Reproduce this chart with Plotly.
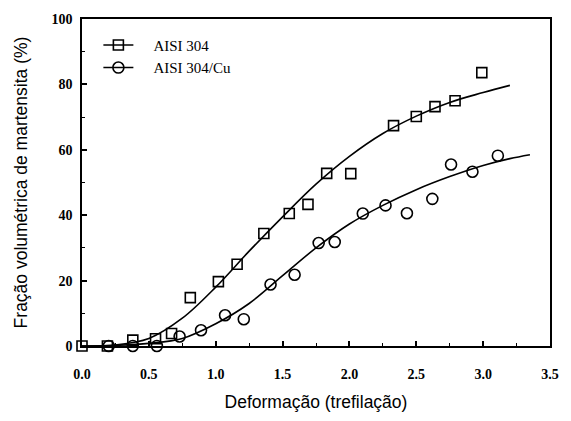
import plotly.graph_objects as go

# Measured points
x_304 = [0.0, 0.19, 0.38, 0.55, 0.67, 0.81, 1.02, 1.16, 1.36, 1.55, 1.69, 1.83, 2.01, 2.33, 2.50, 2.64, 2.79, 2.99]
y_304 = [0.0, 0.0, 1.8, 2.2, 3.8, 14.8, 19.7, 25.0, 34.4, 40.5, 43.3, 52.8, 52.7, 67.4, 70.2, 73.2, 75.0, 83.6]

x_cu = [0.20, 0.38, 0.56, 0.73, 0.89, 1.07, 1.21, 1.41, 1.59, 1.77, 1.89, 2.10, 2.27, 2.43, 2.62, 2.76, 2.92, 3.11]
y_cu = [0.0, 0.0, 0.0, 2.9, 4.8, 9.4, 8.2, 18.8, 21.8, 31.5, 31.8, 40.5, 43.0, 40.6, 45.0, 55.5, 53.3, 58.2]

# Fitted transformation curves
fit_x_304 = [0.0, 0.25, 0.5, 0.75, 1.0, 1.25, 1.5, 1.75, 2.0, 2.25, 2.5, 2.75, 3.0, 3.2]
fit_y_304 = [0.0, 0.3, 2.3, 8.5, 18.0, 29.0, 39.5, 49.5, 58.0, 65.0, 70.3, 74.5, 77.5, 79.7]

fit_x_cu = [0.0, 0.25, 0.5, 0.75, 1.0, 1.25, 1.5, 1.75, 2.0, 2.25, 2.5, 2.75, 3.0, 3.2, 3.35]
fit_y_cu = [0.0, 0.2, 0.8, 2.3, 6.8, 13.0, 21.5, 30.0, 37.3, 43.0, 47.8, 51.8, 55.2, 57.3, 58.5]

x_ticks = [0.0, 0.5, 1.0, 1.5, 2.0, 2.5, 3.0, 3.5]
y_ticks = [0, 20, 40, 60, 80, 100]

series_names = ["AISI 304", "AISI 304/Cu"]

tick_font = dict(family="Liberation Serif", size=14, color="black", weight="bold")
title_font = dict(family="Liberation Sans", size=17.5, color="black")
legend_pad = "\u00a0" * 4

fig = go.Figure()

# Fit curves
for fx, fy in [(fit_x_304, fit_y_304), (fit_x_cu, fit_y_cu)]:
    fig.add_trace(go.Scatter(x=fx, y=fy, mode="lines",
                             line=dict(color="black", width=1.6, shape="spline"),
                             showlegend=False, hoverinfo="skip", cliponaxis=False))

square_marker = dict(symbol="square-open", size=10, color="black", line=dict(width=1.6))
circle_marker = dict(symbol="circle-open", size=11, color="black", line=dict(width=1.6))

# Measured data
fig.add_trace(go.Scatter(x=x_304, y=y_304, mode="markers", name=series_names[0],
                         marker=square_marker, showlegend=False, cliponaxis=False))
fig.add_trace(go.Scatter(x=x_cu, y=y_cu, mode="markers", name=series_names[1],
                         marker=circle_marker, showlegend=False, cliponaxis=False))

# Legend entries: marker with a line through it
fig.add_trace(go.Scatter(x=[None], y=[None], mode="markers+lines", name=legend_pad + series_names[0],
                         line=dict(color="black", width=1.6), marker=square_marker))
fig.add_trace(go.Scatter(x=[None], y=[None], mode="markers+lines", name=legend_pad + series_names[1],
                         line=dict(color="black", width=1.6), marker=circle_marker))

axis_common = dict(
    showgrid=False, zeroline=False, showline=True, linecolor="black", linewidth=1.6,
    mirror=True, ticks="inside", ticklen=5, tickwidth=1.6, tickcolor="black",
    tickfont=tick_font,
)

fig.update_xaxes(range=[0, 3.5], tickvals=x_ticks, ticktext=[f"{v:.1f}" for v in x_ticks],
                 ticklabelstandoff=14,
                 title=dict(text="Deformação (trefilação)", font=title_font, standoff=15),
                 minor=dict(ticks="inside", ticklen=3, tickwidth=1.2, dtick=0.25, tickcolor="black"),
                 **axis_common)
fig.update_yaxes(range=[0, 100], tickvals=y_ticks, ticktext=[str(v) for v in y_ticks],
                 ticklabelstandoff=5,
                 title=dict(text="Fração volumétrica de martensita (%)", font=title_font, standoff=19),
                 minor=dict(ticks="inside", ticklen=3, tickwidth=1.2, dtick=10, tickcolor="black"),
                 **axis_common)

fig.update_layout(
    width=571, height=421,
    margin=dict(l=82, r=13, t=16, b=75),
    paper_bgcolor="white", plot_bgcolor="white",
    legend=dict(x=0.035, y=0.97, xanchor="left", yanchor="top", bgcolor="rgba(0,0,0,0)",
                font=dict(family="Liberation Serif", size=15, color="black"),
                itemwidth=30),
)

fig.write_html("out.html")
